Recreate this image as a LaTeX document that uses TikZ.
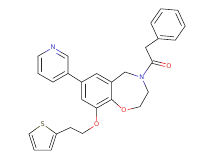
\documentclass[tikz,border=0pt]{standalone}
\usepackage{fontspec}
\setmainfont{DejaVu Sans}
\usetikzlibrary{calc}
\definecolor{nblue}{RGB}{60,60,200}
\definecolor{ored}{RGB}{230,40,40}
\definecolor{sgray}{RGB}{80,80,40}
\tikzset{
  atom/.style={shape=coordinate},
  het/.style={circle,inner sep=0pt,minimum size=7.4pt,font=\fontsize{6.5}{7}\selectfont,text height=4.7pt,text depth=0pt},
  bond/.style={line width=0.6pt,draw=black!85,line cap=round},
}
\newcommand\hetbond[3]{\draw[bond] (#1) -- ($(#1)!0.5!(#2)$); \draw[bond,draw=#3] ($(#1)!0.5!(#2)$) -- (#2);}
\newcommand\innerdb[3]{\draw[bond] ($(#3)!0.78!(#1)$) -- ($(#3)!0.78!(#2)$);}
\begin{document}
\begin{tikzpicture}[x=1pt,y=-1pt]
\useasboundingbox (0,0) rectangle (215,160);
% benzo ring
\coordinate (bc) at (96.7,90.8);
\node[atom] (c6) at (96.7,73.5) {};
\node[atom] (c5a) at (111.7,82.15) {};
\node[atom] (c9a) at (111.7,99.45) {};
\node[atom] (c9) at (96.7,108.1) {};
\node[atom] (c8) at (81.7,99.45) {};
\node[atom] (c7) at (81.7,82.15) {};
% pyridine
\coordinate (pc) at (53,64.8);
\node[het,text=nblue] (pn) at (53,47.5) {N};
\node[atom] (p2) at (68,56.15) {};
\node[atom] (p3) at (68,73.45) {};
\node[atom] (p4) at (53,82.1) {};
\node[atom] (p5) at (38,73.45) {};
\node[atom] (p6) at (38,56.15) {};
% seven ring
\node[atom] (c5) at (125,72) {};
\node[het,text=nblue] (n4) at (141.7,77.5) {N};
\node[atom] (c3) at (148.3,92) {};
\node[atom] (c2) at (140,106.7) {};
\node[het,text=ored] (o1) at (124,110.5) {O};
% amide
\node[atom] (cco) at (152.5,62) {};
\node[het,text=ored] (oco) at (169,66) {O};
\node[atom] (cm) at (145.5,47.5) {};
% phenyl
\coordinate (phc) at (168,24.5);
\node[atom] (f1) at (158.1,38.7) {};
\node[atom] (f2) at (175.3,40.2) {};
\node[atom] (f3) at (185.2,26.0) {};
\node[atom] (f4) at (177.9,10.3) {};
\node[atom] (f5) at (160.7,8.8) {};
\node[atom] (f6) at (150.8,23.0) {};
% ether chain
\node[het,text=ored] (oe) at (96.7,124.5) {O};
\node[atom] (ca) at (82.5,133.5) {};
\node[atom] (cb) at (70.5,127.5) {};
% thiophene
\coordinate (tc) at (42.7,138.5);
\node[het,text=sgray] (ts) at (42.7,124) {S};
\node[atom] (t2) at (56.45,134) {};
\node[atom] (t3) at (51.2,150.2) {};
\node[atom] (t4) at (34.2,150.2) {};
\node[atom] (t5) at (28.95,134) {};
% benzo bonds
\draw[bond] (c6) -- (c5a) -- (c9a) -- (c9) -- (c8) -- (c7) -- (c6);
\innerdb{c6}{c5a}{bc}
\innerdb{c9a}{c9}{bc}
\innerdb{c8}{c7}{bc}
\draw[bond] (c7) -- (p3);
% pyridine bonds
\hetbond{p2}{pn}{nblue}
\hetbond{p6}{pn}{nblue}
\draw[bond] (p2) -- (p3) -- (p4) -- (p5) -- (p6);
\coordinate (pnx) at ($(pn)!0.3!(p2)$);
\coordinate (pi1) at ($(pc)!0.78!(pnx)$);
\coordinate (pi2) at ($(pc)!0.78!(p2)$);
\coordinate (pim) at ($(pc)!0.78!($(pn)!0.5!(p2)$)$);
\draw[bond,draw=nblue] (pi1) -- (pim);
\draw[bond] (pim) -- (pi2);
\innerdb{p3}{p4}{pc}
\innerdb{p5}{p6}{pc}
% seven ring bonds
\draw[bond] (c5a) -- (c5);
\hetbond{c5}{n4}{nblue}
\hetbond{c3}{n4}{nblue}
\draw[bond] (c3) -- (c2);
\hetbond{c2}{o1}{ored}
\hetbond{c9a}{o1}{ored}
% amide
\hetbond{cco}{n4}{nblue}
\coordinate (mco) at ($(cco)!0.5!(oco)$);
\coordinate (oce) at ($(oco)!3.9pt!(cco)$);
\draw[bond] ($(cco)!1.4pt!90:(oco)$) -- ($(mco)!1.4pt!90:(oco)$);
\draw[bond] ($(cco)!1.4pt!-90:(oco)$) -- ($(mco)!1.4pt!-90:(oco)$);
\draw[bond,draw=ored] ($(mco)!1.4pt!90:(oco)$) -- ($(oce)!1.4pt!-90:(cco)$);
\draw[bond,draw=ored] ($(mco)!1.4pt!-90:(oco)$) -- ($(oce)!1.4pt!90:(cco)$);
\draw[bond] (cco) -- (cm) -- (f1);
% phenyl
\draw[bond] (f1) -- (f2) -- (f3) -- (f4) -- (f5) -- (f6) -- (f1);
\innerdb{f1}{f2}{phc}
\innerdb{f3}{f4}{phc}
\innerdb{f5}{f6}{phc}
% ether chain
\hetbond{c9}{oe}{ored}
\hetbond{ca}{oe}{ored}
\draw[bond] (ca) -- (cb) -- (t2);
% thiophene
\hetbond{t2}{ts}{sgray}
\hetbond{t5}{ts}{sgray}
\draw[bond] (t2) -- (t3) -- (t4) -- (t5);
\innerdb{t2}{t3}{tc}
\innerdb{t4}{t5}{tc}
\end{tikzpicture}
\end{document}
